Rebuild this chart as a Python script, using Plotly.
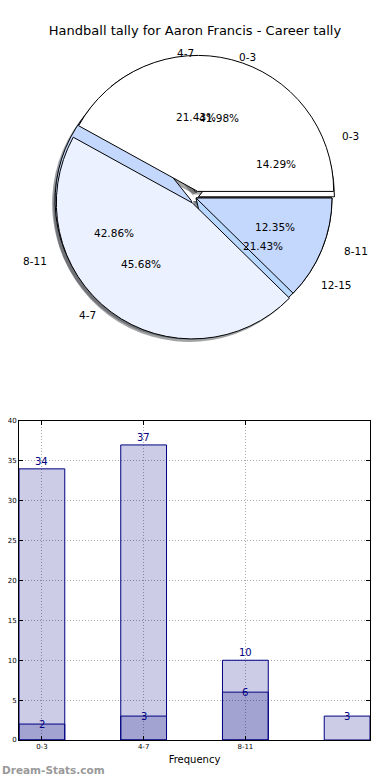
import numpy as np
import plotly.graph_objects as go

W, H = 390, 780
FONT = "DejaVu Sans"

# ---------------- data ----------------
title_text = "Handball tally for Aaron Francis - Career tally"
categories = ["0-3", "4-7", "8-11", "12-15"]
inner_counts = [2, 3, 6, 3]      # first series (pie drawn underneath)
outer_counts = [34, 37, 10]      # second series (pie drawn on top)
xtick_labels = ["0-3", "4-7", "8-11"]
xlabel = "Frequency"
watermark = "Dream-Stats.com"

# ---------------- style ----------------
slice_colors = ["#FFFFFF", "#EBF1FE", "#C4D8FE", "#B8D8FF"]
pull_inner = [0.02, 0.04, 0.04, 0.0]
pull_outer = [0.05, 0.045, 0.0]
CX, CY, R = 196, 198, 136        # pie centre / radius in px
RX, RY = 143, 127                # text placement radii in px
SHX, SHY = -3, 3                 # shadow offset px
BAR_FILL = "rgba(0,0,128,0.2)"
NAVY = "#000080"


def shadow_color(hexc):
    hexc = hexc.lstrip("#")
    r, g, b = (int(hexc[i:i + 2], 16) for i in (0, 2, 4))
    return f"rgba({int(0.3*r)},{int(0.3*g)},{int(0.3*b)},0.5)"


def pie_domain(pulls, dx=0, dy=0):
    s = R * (2 + 2 * max(pulls))
    return dict(x=[(CX + dx - s / 2) / W, (CX + dx + s / 2) / W],
                y=[1 - (CY + dy + s / 2) / H, 1 - (CY + dy - s / 2) / H])


def start_rotation(vals):
    # plotly (counterclockwise) ends the first slice at `rotation`;
    # make the first slice start at 3 o'clock like matplotlib's startangle=0
    return 90 - 360.0 * vals[0] / float(sum(vals))


def pie_trace(vals, labels, pulls, colors, dx=0, dy=0, line=True):
    return go.Pie(values=vals, labels=labels, sort=False,
                  direction="counterclockwise", rotation=start_rotation(vals),
                  pull=pulls,
                  marker=dict(colors=colors,
                              line=dict(color="black", width=1 if line else 0)),
                  textinfo="none", hoverinfo="label+value+percent",
                  showlegend=False, domain=pie_domain(pulls, dx, dy))


def pie_texts(vals, labels, pulls):
    vals = np.asarray(vals, float)
    frac = vals / vals.sum()
    start = np.concatenate([[0.0], np.cumsum(frac)[:-1]])
    theta = 2 * np.pi * (start + frac / 2)
    out = []
    for lab, f, t, e in zip(labels, frac, theta, pulls):
        c, s = np.cos(t), np.sin(t)
        ox, oy = CX + e * RX * c, CY - e * RY * s
        lx, ly = ox + 1.1 * RX * c, oy - 1.1 * RY * s
        qx, qy = ox + 0.6 * RX * c, oy - 0.6 * RY * s
        out.append(dict(x=lx / W, y=1 - ly / H, xref="paper", yref="paper",
                        text=lab, showarrow=False,
                        xanchor="left" if c > 1e-6 else "right", yanchor="middle",
                        font=dict(family=FONT, size=10.5, color="black")))
        out.append(dict(x=qx / W, y=1 - qy / H, xref="paper", yref="paper",
                        text=f"{100 * f:.2f}%", showarrow=False,
                        xanchor="center", yanchor="middle",
                        font=dict(family=FONT, size=10.5, color="black")))
    return out


fig = go.Figure()

inner_cols = slice_colors[:len(inner_counts)]
outer_cols = slice_colors[:len(outer_counts)]
inner_labels = categories[:len(inner_counts)]
outer_labels = categories[:len(outer_counts)]

# shadows first (below every wedge), then pies
fig.add_trace(pie_trace(inner_counts, inner_labels, pull_inner,
                        [shadow_color(c) for c in inner_cols], SHX, SHY, line=False))
fig.add_trace(pie_trace(outer_counts, outer_labels, pull_outer,
                        [shadow_color(c) for c in outer_cols], SHX, SHY, line=False))
fig.add_trace(pie_trace(inner_counts, inner_labels, pull_inner, inner_cols))
fig.add_trace(pie_trace(outer_counts, outer_labels, pull_outer, outer_cols))

# bars
fig.add_trace(go.Bar(x=list(range(len(outer_counts))), y=outer_counts, width=0.45,
                     marker=dict(color=BAR_FILL, line=dict(color=NAVY, width=1)),
                     showlegend=False, xaxis="x", yaxis="y"))
fig.add_trace(go.Bar(x=list(range(len(inner_counts))), y=inner_counts, width=0.45,
                     marker=dict(color=BAR_FILL, line=dict(color=NAVY, width=1)),
                     showlegend=False, xaxis="x", yaxis="y"))

anns = pie_texts(inner_counts, inner_labels, pull_inner) + \
    pie_texts(outer_counts, outer_labels, pull_outer)

for i, v in enumerate(outer_counts):
    anns.append(dict(x=i, y=v, xref="x", yref="y", text=str(v), showarrow=False,
                     yanchor="bottom", xanchor="center",
                     font=dict(family=FONT, size=10, color=NAVY)))
for i, v in enumerate(inner_counts):
    anns.append(dict(x=i, y=v, xref="x", yref="y", text=str(v), showarrow=False,
                     yanchor="middle", xanchor="center",
                     font=dict(family=FONT, size=10, color=NAVY)))

anns.append(dict(x=0, y=1 - 770 / H, xref="paper", yref="paper", text=watermark,
                 showarrow=False, xanchor="left", yanchor="middle",
                 font=dict(family=FONT, size=10.5, color="#999999", weight="bold")))

axis_common = dict(showgrid=True, gridcolor="#a8a8a8", griddash="1px,2px", gridwidth=1,
                   ticks="inside", ticklen=4, tickcolor="black",
                   showline=True, linecolor="black", linewidth=1, mirror="ticks",
                   zeroline=False, automargin=False, fixedrange=True,
                   tickfont=dict(family=FONT, size=7, color="black"))

fig.update_layout(
    template="none",
    width=W, height=H,
    margin=dict(l=0, r=0, t=0, b=0),
    paper_bgcolor="white", plot_bgcolor="white",
    barmode="overlay",
    showlegend=False,
    font=dict(family=FONT, color="black"),
    title=dict(text=title_text, x=0.5, xanchor="center", y=1 - 30 / H,
               yanchor="middle", font=dict(family=FONT, size=13, color="black")),
    xaxis=dict(axis_common, domain=[19 / W, 370 / W], range=[-0.225, 3.225],
               tickvals=[0, 1, 2], ticktext=xtick_labels, anchor="y",
               title=dict(text=xlabel, standoff=5,
                          font=dict(family=FONT, size=10, color="black"))),
    yaxis=dict(axis_common, domain=[1 - 740 / H, 1 - 421 / H], range=[0, 40],
               dtick=5, anchor="x"),
    annotations=anns,
)

fig.write_html("out.html",
               config={"displayModeBar": False},
               post_script="document.body.style.margin='0px';"
                           "document.body.style.overflow='hidden';")
